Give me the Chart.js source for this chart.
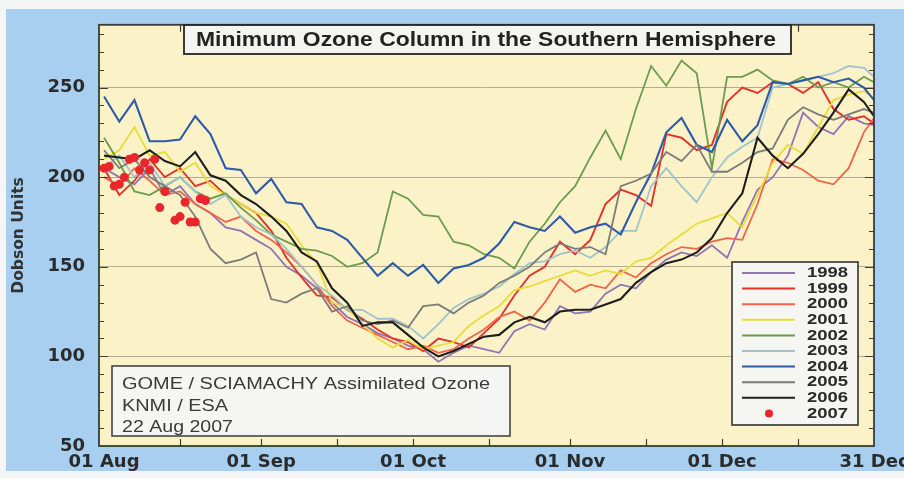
<!DOCTYPE html>
<html lang="en">
<head>
<meta charset="UTF-8">
<meta name="viewport" content="width=device-width, initial-scale=1.0">
<script src="https://cdn.jsdelivr.net/npm/chart.js"></script>
<title>Minimum Ozone Column in the Southern Hemisphere</title>
<style>
  body { margin: 0; background: #f2f4f5; }
  canvas { display: block; }
</style>
</head>
<body>
<canvas id="ozoneChart" width="904" height="478"></canvas>
<script>
// day of the season: 0 = 01 Aug ... 152 = 31 Dec
const days = [0, 3, 6, 9, 12, 15, 18, 21, 24, 27, 30, 33, 36, 39, 42, 45, 48, 51, 54, 57,
  60, 63, 66, 69, 72, 75, 78, 81, 84, 87, 90, 93, 96, 99, 102, 105, 108, 111, 114, 117,
  120, 123, 126, 129, 132, 135, 138, 141, 144, 147, 150, 152];

// minimum ozone column, Dobson units
const ozone1998 = [205, 200, 196, 205, 190, 195, 185, 180, 172, 170, 165, 160, 150, 145, 138, 130, 122, 118, 113, 110,
  106, 104, 97, 102, 106, 104, 102, 114, 118, 115, 128, 124, 125, 135, 140, 138, 147, 154, 158, 156,
  162, 155, 175, 193, 200, 212, 236, 228, 224, 234, 230, 229];
const ozone1999 = [205, 190, 198, 210, 200, 205, 195, 198, 190, 185, 180, 170, 155, 144, 134, 133, 126, 121, 115, 110,
  108, 103, 110, 108, 105, 113, 121, 134, 145, 150, 164, 157, 165, 185, 193, 190, 184, 224, 222, 215,
  218, 242, 250, 247, 253, 252, 247, 253, 238, 232, 234, 230];
const ozone2000 = [200, 195, 205, 198, 190, 192, 185, 180, 175, 178, 170, 165, 158, 150, 140, 128, 120, 116, 112, 108,
  104, 106, 102, 104, 110, 115, 122, 125, 120, 130, 143, 136, 140, 138, 148, 144, 152, 157, 161, 160,
  164, 166, 165, 185, 210, 208, 204, 198, 196, 205, 225, 233];
const ozone2001 = [210, 215, 228, 212, 214, 203, 208, 195, 190, 185, 180, 178, 174, 162, 152, 130, 127, 118, 110, 105,
  109, 104, 106, 108, 117, 123, 128, 137, 139, 142, 145, 148, 145, 148, 146, 153, 155, 162, 168, 174,
  177, 180, 172, 190, 208, 218, 213, 228, 243, 246, 248, 244];
const ozone2002 = [222, 208, 192, 190, 195, 200, 192, 188, 191, 183, 176, 168, 164, 160, 159, 156, 150, 152, 158, 192,
  188, 179, 178, 164, 162, 157, 155, 149, 164, 174, 186, 195, 211, 226, 210, 238, 262, 251, 265, 258,
  205, 256, 256, 260, 254, 252, 256, 250, 253, 250, 256, 253];
const ozone2003 = [205, 212, 200, 208, 195, 200, 192, 185, 190, 178, 172, 168, 160, 150, 140, 134, 126, 126, 121, 121,
  117, 110, 118, 127, 132, 135, 139, 146, 152, 153, 157, 159, 155, 161, 170, 170, 195, 205, 195, 186,
  200, 211, 217, 222, 250, 252, 254, 256, 258, 262, 261, 256];
const ozone2004 = [245, 231, 243, 220, 220, 221, 234, 224, 205, 204, 191, 199, 186, 185, 172, 170, 165, 155, 145, 152,
  145, 151, 141, 149, 151, 155, 163, 175, 172, 170, 178, 169, 172, 174, 168, 186, 202, 225, 233, 218,
  214, 232, 220, 229, 253, 252, 254, 256, 253, 255, 250, 243];
const ozone2005 = [215, 205, 210, 200, 195, 190, 178, 160, 152, 154, 158, 132, 130, 135, 138, 125, 128, 120, 118, 120,
  116, 128, 129, 124, 130, 134, 141, 145, 150, 158, 163, 160, 161, 157, 195, 198, 202, 214, 209, 218,
  203, 203, 208, 214, 216, 232, 239, 235, 232, 235, 238, 236];
const ozone2006 = [212, 211, 210, 215, 209, 206, 214, 201, 198, 190, 185, 178, 170, 158, 153, 138, 130, 117, 119, 119,
  112, 105, 100, 103, 107, 111, 112, 119, 122, 119, 125, 126, 126, 129, 132, 141, 147, 152, 154, 158,
  166, 180, 191, 222, 212, 205, 213, 224, 236, 249, 242, 234];

// 2007 so far (daily points up to 22 Aug)
const days2007 = [0, 1, 2, 3, 4, 5, 6, 7, 8, 9, 10, 11, 12, 14, 15, 16, 17, 18, 19, 20];
const ozone2007 = [205, 206, 195, 196, 200, 210, 211, 204, 208, 204, 210, 183, 192, 176, 178, 186, 175, 175, 188, 187];

const xTickDays = [0, 31, 61, 92, 122, 152];
const xTickLabels = ['01 Aug', '01 Sep', '01 Oct', '01 Nov', '01 Dec', '31 Dec'];
const halfMonthDays = [15, 31, 46, 61, 76, 92, 107, 122, 137];

const lineSeries = [
  { label: '1998', values: ozone1998, color: '#8f74b6', width: 1.8 },
  { label: '1999', values: ozone1999, color: '#e5312b', width: 1.9 },
  { label: '2000', values: ozone2000, color: '#f2634a', width: 1.8 },
  { label: '2001', values: ozone2001, color: '#e9dc3a', width: 1.8 },
  { label: '2002', values: ozone2002, color: '#6b9b4e', width: 1.8 },
  { label: '2003', values: ozone2003, color: '#9fc3cd', width: 1.8 },
  { label: '2004', values: ozone2004, color: '#2d5ba9', width: 2.1 },
  { label: '2005', values: ozone2005, color: '#7b7b7b', width: 1.8 },
  { label: '2006', values: ozone2006, color: '#1e1e1e', width: 2.1 }
];

const datasets = lineSeries.map((s, i) => ({
  label: s.label,
  data: days.map((d, k) => ({ x: d, y: s.values[k] })),
  borderColor: s.color,
  backgroundColor: s.color,
  borderWidth: s.width,
  pointRadius: 0,
  tension: 0,
  order: lineSeries.length + 1 - i
}));
datasets.push({
  label: '2007',
  data: days2007.map((d, k) => ({ x: d, y: ozone2007[k] })),
  showLine: false,
  pointRadius: 4.5,
  pointBorderWidth: 0,
  backgroundColor: '#e8262b',
  borderColor: '#e8262b',
  order: 0
});

const labelFont = { family: 'DejaVu Sans', weight: 'bold', size: 18 };
const textColor = '#2b2b2b';

// draw text squeezed/stretched to a given width (the scan is wider than Arial)
function fitText(ctx, text, x, y, width, align) {
  const w = ctx.measureText(text).width;
  ctx.save();
  ctx.translate(x, y);
  ctx.scale(width / w, 1);
  ctx.textAlign = align;
  ctx.fillText(text, 0, 0);
  ctx.restore();
}

const scanBackground = {
  id: 'scanBackground',
  beforeDraw(chart) {
    const { ctx, chartArea: a, width, height } = chart;
    ctx.save();
    ctx.fillStyle = '#f3f5f6';
    ctx.fillRect(0, 0, width, height);
    ctx.fillStyle = '#a8cfef';
    ctx.fillRect(6, 9, width - 6, height - 16);
    ctx.fillStyle = '#fbf3c7';
    ctx.fillRect(a.left, a.top, a.right - a.left, a.bottom - a.top);
    ctx.restore();
  }
};

const scanFrame = {
  id: 'scanFrame',
  afterDatasetsDraw(chart) {
    const { ctx, chartArea: a } = chart;
    const xs = chart.scales.x, ys = chart.scales.y;
    ctx.save();

    // inner tick marks
    ctx.strokeStyle = '#3c3c3c';
    ctx.lineWidth = 1.2;
    ctx.beginPath();
    for (let v = 60; v < 285; v += 10) {
      const py = Math.round(ys.getPixelForValue(v)) + 0.5;
      const len = v % 50 === 0 ? 9 : 5;
      ctx.moveTo(a.left, py); ctx.lineTo(a.left + len, py);
      ctx.moveTo(a.right, py); ctx.lineTo(a.right - len, py);
    }
    halfMonthDays.forEach(d => {
      const px = Math.round(xs.getPixelForValue(d)) + 0.5;
      ctx.moveTo(px, a.top); ctx.lineTo(px, a.top + 7);
      ctx.moveTo(px, a.bottom); ctx.lineTo(px, a.bottom - 7);
    });
    ctx.stroke();

    ctx.lineWidth = 1.8;
    ctx.strokeStyle = '#3a3a3a';
    ctx.strokeRect(a.left, a.top, a.right - a.left, a.bottom - a.top);

    // title box
    ctx.fillStyle = '#f4f4f1';
    ctx.fillRect(184, 25, 607, 29);
    ctx.strokeStyle = '#262626';
    ctx.lineWidth = 1.8;
    ctx.strokeRect(184, 25, 607, 29);
    ctx.fillStyle = '#222';
    ctx.textBaseline = 'middle';
    ctx.font = 'bold 20px "Liberation Sans", Arial, sans-serif';
    fitText(ctx, 'Minimum Ozone Column in the Southern Hemisphere', 486, 40, 580, 'center');

    // source note
    ctx.fillStyle = '#f5f5f3';
    ctx.fillRect(112, 366, 398, 70);
    ctx.strokeStyle = '#3a3a3a';
    ctx.lineWidth = 1.5;
    ctx.strokeRect(112, 366, 398, 70);
    ctx.fillStyle = '#3a3a3a';
    ctx.font = '16px "Liberation Sans", Arial, sans-serif';
    fitText(ctx, 'GOME / SCIAMACHY Assimilated Ozone', 122, 385, 368, 'left');
    fitText(ctx, 'KNMI / ESA', 122, 407, 106, 'left');
    fitText(ctx, '22 Aug 2007', 122, 428, 111, 'left');

    // legend
    ctx.fillStyle = '#f5f5f2';
    ctx.fillRect(732, 262, 126, 163);
    ctx.strokeStyle = '#333';
    ctx.lineWidth = 1.6;
    ctx.strokeRect(732, 262, 126, 163);
    ctx.font = 'bold 15px "Liberation Sans", Arial, sans-serif';
    chart.data.datasets.forEach((ds, i) => {
      const ry = 273 + i * 15.6;
      if (ds.showLine === false) {
        ctx.fillStyle = ds.backgroundColor;
        ctx.beginPath();
        ctx.arc(769, ry, 4, 0, Math.PI * 2);
        ctx.fill();
      } else {
        ctx.strokeStyle = ds.borderColor;
        ctx.lineWidth = 2;
        ctx.beginPath();
        ctx.moveTo(742, ry); ctx.lineTo(795, ry);
        ctx.stroke();
      }
      ctx.fillStyle = '#2a2a2a';
      fitText(ctx, ds.label, 807, ry, 41, 'left');
    });
    ctx.restore();
  }
};

new Chart(document.getElementById('ozoneChart'), {
  type: 'line',
  data: { datasets: datasets },
  options: {
    responsive: false,
    animation: false,
    layout: { padding: { top: 12, right: 30, bottom: 0, left: 0 } },
    plugins: { legend: { display: false }, tooltip: { enabled: false } },
    scales: {
      x: {
        type: 'linear',
        min: -1,
        max: 152,
        afterBuildTicks: s => { s.ticks = xTickDays.map(v => ({ value: v })); },
        afterFit: s => { s.height = 32; s.paddingLeft = 0; s.paddingRight = 0; },
        grid: { display: false, drawTicks: false },
        border: { display: false },
        ticks: {
          autoSkip: false,
          maxRotation: 0,
          padding: 6,
          color: textColor,
          font: labelFont,
          callback: (v, i) => xTickLabels[i]
        }
      },
      y: {
        min: 50,
        max: 285,
        afterFit: s => { s.width = 99; },
        grid: { color: '#b3ab92', lineWidth: 1, drawTicks: false },
        border: { display: false },
        ticks: {
          stepSize: 50,
          includeBounds: false,
          padding: 14,
          color: textColor,
          font: labelFont
        },
        title: {
          display: true,
          text: 'Dobson Units',
          color: '#333',
          font: { family: 'DejaVu Sans', weight: 'bold', size: 15.5 },
          padding: { top: 10, bottom: 0 }
        }
      }
    }
  },
  plugins: [scanBackground, scanFrame]
});
</script>
</body>
</html>
